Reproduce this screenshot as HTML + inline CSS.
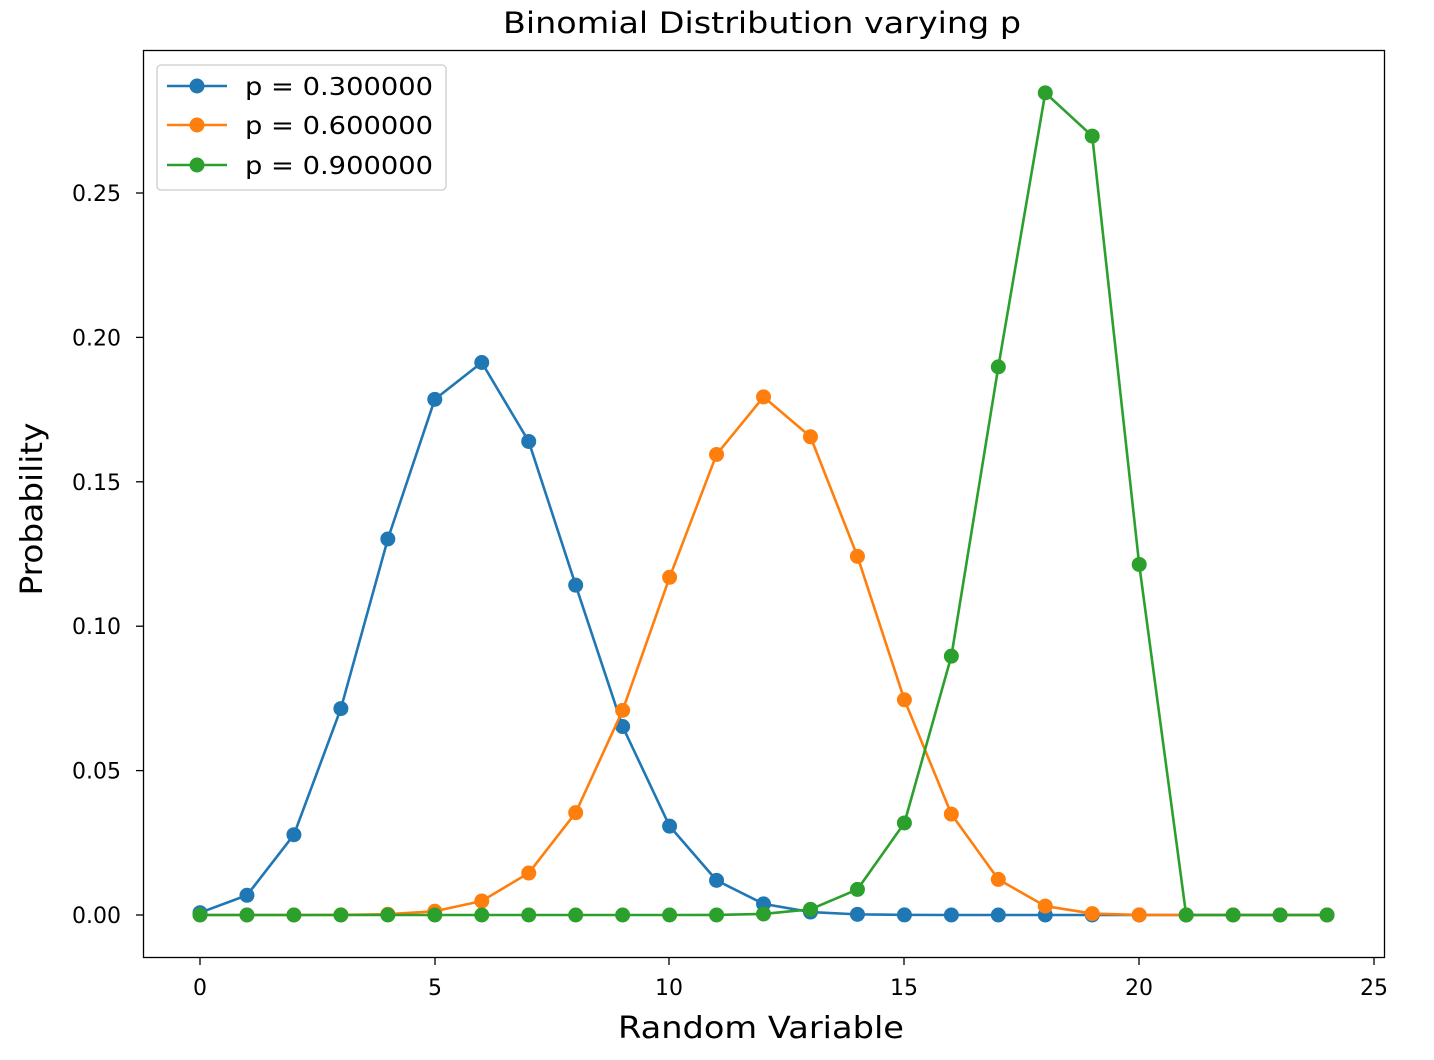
<!DOCTYPE html>
<html><head><meta charset="utf-8"><style>
body{margin:0;background:#fff;}
svg{display:block;font-family:"DejaVu Sans","Liberation Sans",sans-serif;}
</style></head><body>
<svg width="1434" height="1060" viewBox="0 0 1434 1060" xmlns="http://www.w3.org/2000/svg">
<rect width="1434" height="1060" fill="#fff"/>
<text x="762" y="33" font-size="29" text-anchor="middle" fill="#000" textLength="518" lengthAdjust="spacingAndGlyphs">Binomial Distribution varying p</text>
<g transform="translate(200,915) scale(46.96,-2883)" fill="none" stroke-linejoin="round">
<polyline vector-effect="non-scaling-stroke" stroke="#1f77b4" stroke-width="2.6" points="0,0.000798 1,0.00684 2,0.02785 3,0.0716 4,0.13042 5,0.17886 6,0.19164 7,0.16426 8,0.1144 9,0.06537 10,0.03082 11,0.01201 12,0.00386 13,0.00102 14,0.00022 15,0.00004 16,0 17,0 18,0 19,0 20,0 21,0 22,0 23,0 24,0"/>
<path vector-effect="non-scaling-stroke" stroke="#1f77b4" stroke-width="15" stroke-linecap="round" d="M0,0.000798h0M1,0.00684h0M2,0.02785h0M3,0.0716h0M4,0.13042h0M5,0.17886h0M6,0.19164h0M7,0.16426h0M8,0.1144h0M9,0.06537h0M10,0.03082h0M11,0.01201h0M12,0.00386h0M13,0.00102h0M14,0.00022h0M15,0.00004h0M16,0h0M17,0h0M18,0h0M19,0h0M20,0h0M21,0h0M22,0h0M23,0h0M24,0h0"/>
<polyline vector-effect="non-scaling-stroke" stroke="#ff7f0e" stroke-width="2.6" points="0,0 1,0 2,0 3,0.00004 4,0.00027 5,0.00129 6,0.00485 7,0.01456 8,0.0355 9,0.07099 10,0.11714 11,0.15974 12,0.17971 13,0.16588 14,0.12441 15,0.07465 16,0.03499 17,0.01235 18,0.00309 19,0.000487 20,0.0000366 21,0 22,0 23,0 24,0"/>
<path vector-effect="non-scaling-stroke" stroke="#ff7f0e" stroke-width="15" stroke-linecap="round" d="M0,0h0M1,0h0M2,0h0M3,0.00004h0M4,0.00027h0M5,0.00129h0M6,0.00485h0M7,0.01456h0M8,0.0355h0M9,0.07099h0M10,0.11714h0M11,0.15974h0M12,0.17971h0M13,0.16588h0M14,0.12441h0M15,0.07465h0M16,0.03499h0M17,0.01235h0M18,0.00309h0M19,0.000487h0M20,0.0000366h0M21,0h0M22,0h0M23,0h0M24,0h0"/>
<polyline vector-effect="non-scaling-stroke" stroke="#2ca02c" stroke-width="2.6" points="0,0 1,0 2,0 3,0 4,0 5,0 6,0 7,0 8,0 9,0 10,0 11,0.00001 12,0.00036 13,0.00197 14,0.00887 15,0.03192 16,0.08978 17,0.19012 18,0.28518 19,0.27017 20,0.12158 21,0 22,0 23,0 24,0"/>
<path vector-effect="non-scaling-stroke" stroke="#2ca02c" stroke-width="15" stroke-linecap="round" d="M0,0h0M1,0h0M2,0h0M3,0h0M4,0h0M5,0h0M6,0h0M7,0h0M8,0h0M9,0h0M10,0h0M11,0.00001h0M12,0.00036h0M13,0.00197h0M14,0.00887h0M15,0.03192h0M16,0.08978h0M17,0.19012h0M18,0.28518h0M19,0.27017h0M20,0.12158h0M21,0h0M22,0h0M23,0h0M24,0h0"/>
</g>
<rect x="143.5" y="50.5" width="1241" height="907" fill="none" stroke="#000" stroke-width="1.3"/>
<g stroke="#000" stroke-width="1.3">
<line x1="200" y1="958" x2="200" y2="965"/><line x1="435" y1="958" x2="435" y2="965"/><line x1="669" y1="958" x2="669" y2="965"/><line x1="904" y1="958" x2="904" y2="965"/><line x1="1139" y1="958" x2="1139" y2="965"/><line x1="1374" y1="958" x2="1374" y2="965"/>
<line x1="136" y1="915" x2="143" y2="915"/><line x1="136" y1="770.6" x2="143" y2="770.6"/><line x1="136" y1="626.2" x2="143" y2="626.2"/><line x1="136" y1="481.8" x2="143" y2="481.8"/><line x1="136" y1="337.4" x2="143" y2="337.4"/><line x1="136" y1="193" x2="143" y2="193"/>
</g>
<g font-size="22" fill="#000" text-anchor="middle">
<text x="200" y="995">0</text><text x="435" y="995">5</text><text x="669" y="995">10</text><text x="904" y="995">15</text><text x="1139" y="995">20</text><text x="1374" y="995">25</text>
</g>
<g font-size="22" fill="#000" text-anchor="end">
<text x="121" y="923">0.00</text><text x="121" y="778.6">0.05</text><text x="121" y="634.2">0.10</text><text x="121" y="489.8">0.15</text><text x="121" y="345.4">0.20</text><text x="121" y="201">0.25</text>
</g>
<text x="761" y="1038" font-size="30" text-anchor="middle" textLength="286" lengthAdjust="spacingAndGlyphs">Random Variable</text>
<text transform="translate(42,509) rotate(-90)" font-size="30" text-anchor="middle" textLength="173" lengthAdjust="spacingAndGlyphs">Probability</text>
<rect x="157" y="65" width="289" height="125" rx="4" fill="#fff" fill-opacity="0.8" stroke="#ccc" stroke-width="1.3"/>
<g stroke-width="2.6">
<line x1="167" y1="86" x2="227" y2="86" stroke="#1f77b4"/><circle cx="197" cy="86" r="7.5" fill="#1f77b4"/>
<line x1="167" y1="125" x2="227" y2="125" stroke="#ff7f0e"/><circle cx="197" cy="125" r="7.5" fill="#ff7f0e"/>
<line x1="167" y1="165" x2="227" y2="165" stroke="#2ca02c"/><circle cx="197" cy="165" r="7.5" fill="#2ca02c"/>
</g>
<g font-size="25" fill="#000">
<text x="245" y="95" textLength="188" lengthAdjust="spacingAndGlyphs">p = 0.300000</text><text x="245" y="134" textLength="188" lengthAdjust="spacingAndGlyphs">p = 0.600000</text><text x="245" y="174" textLength="188" lengthAdjust="spacingAndGlyphs">p = 0.900000</text>
</g>
</svg>
</body></html>
